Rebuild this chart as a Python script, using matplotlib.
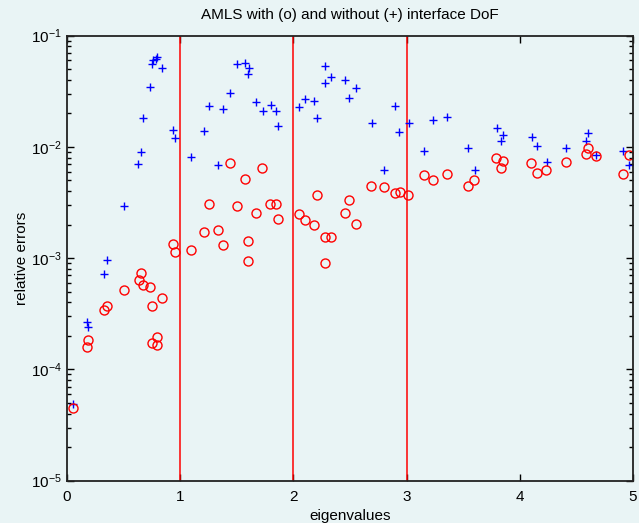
import numpy as np
import matplotlib
matplotlib.use("Agg")
import matplotlib.pyplot as plt
from matplotlib.ticker import LogLocator, NullFormatter, FixedLocator


# Данные: собственные значения и относительные ошибки
# без интерфейсных степеней свободы (+)
eig_plus = [0.050, 0.174, 0.188, 0.327, 0.351, 0.504, 0.630, 0.651, 0.674, 0.733,
            0.748, 0.757, 0.785, 0.795, 0.839, 0.936, 0.957, 1.093, 1.213, 1.254,
            1.337, 1.378, 1.437, 1.502, 1.575, 1.605, 1.602, 1.670, 1.729, 1.799,
            1.846, 1.864, 2.052, 2.102, 2.179, 2.211, 2.276, 2.276, 2.329, 2.456,
            2.494, 2.553, 2.692, 2.798, 2.898, 2.936, 3.018, 3.151, 3.236, 3.354,
            3.540, 3.601, 3.796, 3.834, 3.852, 4.105, 4.155, 4.238, 4.405, 4.585,
            4.600, 4.673, 4.909, 4.968]
err_plus = [4.9e-5, 2.67e-4, 2.39e-4, 7.24e-4, 9.6e-4, 2.96e-3, 7.0e-3, 8.97e-3, 1.80e-2, 3.47e-2,
            5.55e-2, 6.0e-2, 6.2e-2, 6.4e-2, 5.1e-2, 1.42e-2, 1.2e-2, 8.05e-3, 1.39e-2, 2.33e-2,
            6.82e-3, 2.17e-2, 3.04e-2, 5.51e-2, 5.62e-2, 5.07e-2, 4.48e-2, 2.51e-2, 2.10e-2, 2.36e-2,
            2.10e-2, 1.54e-2, 2.29e-2, 2.68e-2, 2.59e-2, 1.83e-2, 5.32e-2, 3.74e-2, 4.24e-2, 3.98e-2,
            2.73e-2, 3.39e-2, 1.63e-2, 6.15e-3, 2.34e-2, 1.36e-2, 1.64e-2, 9.1e-3, 1.74e-2, 1.87e-2,
            9.68e-3, 6.23e-3, 1.49e-2, 1.12e-2, 1.27e-2, 1.22e-2, 1.02e-2, 7.34e-3, 9.75e-3, 1.14e-2,
            1.34e-2, 8.4e-3, 9.16e-3, 6.86e-3]

# с интерфейсными степенями свободы (o)
eig_circ = [0.056, 0.174, 0.188, 0.327, 0.353, 0.501, 0.633, 0.654, 0.674, 0.736,
            0.751, 0.751, 0.792, 0.798, 0.839, 0.934, 0.957, 1.093, 1.213, 1.254,
            1.334, 1.378, 1.437, 1.502, 1.575, 1.602, 1.602, 1.670, 1.726, 1.793,
            1.846, 1.861, 2.049, 2.099, 2.179, 2.211, 2.276, 2.276, 2.329, 2.453,
            2.494, 2.550, 2.689, 2.798, 2.895, 2.939, 3.015, 3.151, 3.236, 3.354,
            3.540, 3.598, 3.793, 3.834, 3.852, 4.102, 4.155, 4.234, 4.405, 4.585,
            4.600, 4.676, 4.909, 4.968]
err_circ = [4.47e-5, 1.6e-4, 1.82e-4, 3.44e-4, 3.71e-4, 5.2e-4, 6.31e-4, 7.3e-4, 5.69e-4, 5.5e-4,
            3.69e-4, 1.71e-4, 1.64e-4, 1.97e-4, 4.37e-4, 1.33e-3, 1.14e-3, 1.19e-3, 1.71e-3, 3.04e-3,
            1.78e-3, 1.32e-3, 7.2e-3, 2.94e-3, 5.1e-3, 1.42e-3, 9.5e-4, 2.54e-3, 6.49e-3, 3.06e-3,
            3.06e-3, 2.23e-3, 2.5e-3, 2.2e-3, 1.97e-3, 3.69e-3, 1.54e-3, 9.1e-4, 1.56e-3, 2.52e-3,
            3.3e-3, 2.01e-3, 4.47e-3, 4.38e-3, 3.85e-3, 3.9e-3, 3.71e-3, 5.6e-3, 5.06e-3, 5.73e-3,
            4.47e-3, 5.03e-3, 7.88e-3, 6.44e-3, 7.45e-3, 7.1e-3, 5.78e-3, 6.22e-3, 7.3e-3, 8.68e-3,
            9.8e-3, 8.2e-3, 5.73e-3, 8.43e-3]

# Границы интервалов
separators = [1, 2, 3]

BG = "#e9f4f5"

plt.rcParams["font.family"] = ["Liberation Sans", "DejaVu Sans"]
plt.rcParams["mathtext.fontset"] = "custom"
plt.rcParams["mathtext.rm"] = "Liberation Sans"

fig = plt.figure(figsize=(6.39, 5.23), dpi=100, facecolor=BG)
ax = fig.add_axes([0.105, 0.081, 0.8856, 0.851])
ax.set_facecolor(BG)

for s in separators:
    ax.axvline(s, color="#ff0000", linewidth=1.1)

ax.plot(eig_plus, err_plus, linestyle="none", marker="+", color="blue",
        markersize=6, markeredgewidth=1)
ax.plot(eig_circ, err_circ, linestyle="none", marker="o", markerfacecolor="none",
        markeredgecolor="red", markersize=6.5, markeredgewidth=1)

ax.set_yscale("log")
ax.set_xlim(0, 5)
ax.set_ylim(1e-5, 1e-1)
ax.xaxis.set_major_locator(FixedLocator([0, 1, 2, 3, 4, 5]))
ax.yaxis.set_major_locator(LogLocator(base=10, numticks=10))
ax.yaxis.set_minor_locator(LogLocator(base=10, subs=np.arange(2, 10), numticks=10))
ax.yaxis.set_minor_formatter(NullFormatter())

ax.tick_params(which="both", direction="in", top=True, right=True, labelsize=11)
ax.tick_params(axis="x", pad=7)
ax.tick_params(axis="y", pad=4)
ax.tick_params(which="major", length=5, width=1)
ax.tick_params(which="minor", length=3, width=1)
for sp in ax.spines.values():
    sp.set_linewidth(1.3)
    sp.set_color("#222222")

ax.set_title("AMLS with (o) and without (+) interface DoF", fontsize=11, pad=12)
ax.set_xlabel("eigenvalues", fontsize=11, labelpad=3)
ax.set_ylabel("relative errors", fontsize=11, labelpad=1)

fig.savefig("out.png", dpi=100, facecolor=BG)
